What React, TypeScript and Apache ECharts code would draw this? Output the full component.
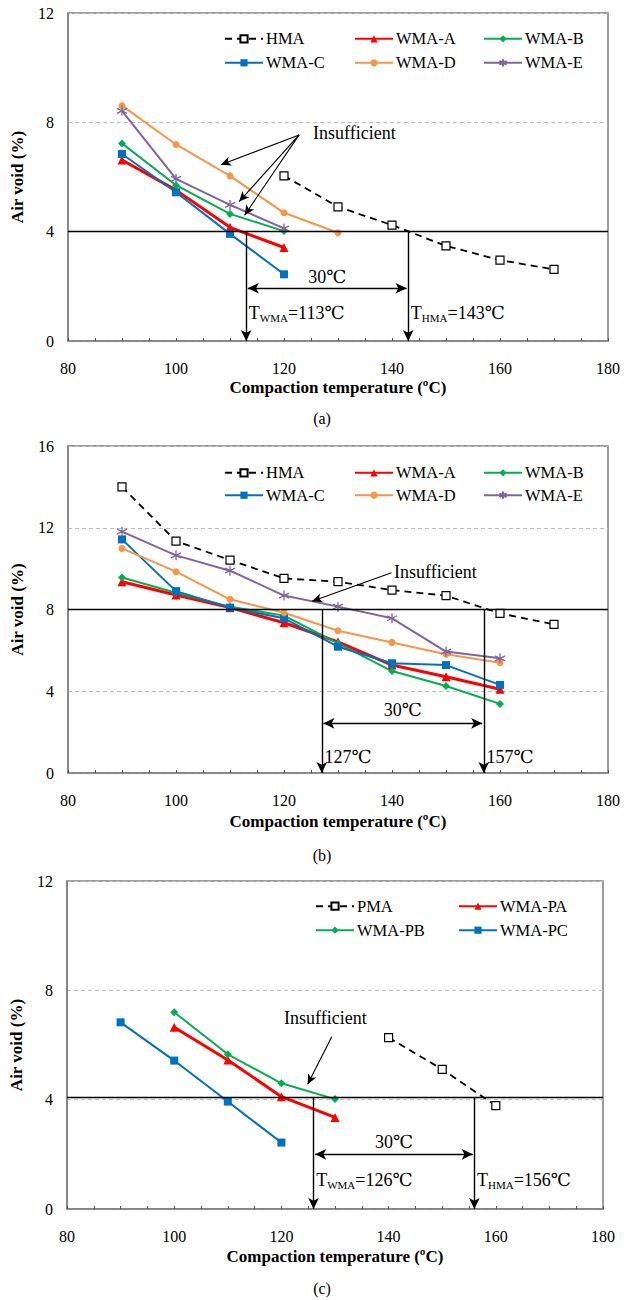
import React, { useEffect, useRef } from "react";
import * as echarts from "echarts";

const FONT = "'Liberation Serif', 'Times New Roman', 'DejaVu Serif', serif";

// ---------- (a) ----------
const hmaTempsA = [120, 130, 140, 150, 160, 170];
const hmaA = [6.04, 4.91, 4.24, 3.48, 2.96, 2.62];
const tempsA4 = [90, 100, 110, 120];
const tempsA5 = [90, 100, 110, 120, 130];
const wmaA_a = [6.62, 5.52, 4.16, 3.42];
const wmaB_a = [7.23, 5.7, 4.65, 4.02];
const wmaC_a = [6.84, 5.44, 3.92, 2.44];
const wmaD_a = [8.61, 7.19, 6.04, 4.69, 3.96];
const wmaE_a = [8.42, 5.93, 4.98, 4.12];

// ---------- (b) ----------
const hmaTempsB = [90, 100, 110, 120, 130, 140, 150, 160, 170];
const hmaB = [14.0, 11.35, 10.42, 9.52, 9.36, 8.95, 8.68, 7.81, 7.27];
const tempsB = [90, 100, 110, 120, 130, 140, 150, 160];
const wmaA_b = [9.36, 8.71, 8.09, 7.35, 6.42, 5.28, 4.71, 4.1];
const wmaB_b = [9.57, 8.82, 8.14, 7.7, 6.34, 4.99, 4.26, 3.38];
const wmaC_b = [11.43, 8.9, 8.09, 7.57, 6.18, 5.37, 5.28, 4.31];
const wmaD_b = [10.99, 9.85, 8.5, 7.84, 6.96, 6.39, 5.81, 5.4];
const wmaE_b = [11.81, 10.65, 9.9, 8.68, 8.14, 7.57, 5.94, 5.61];

// ---------- (c) ----------
const pmaTemps = [140, 150, 160];
const pma = [6.27, 5.11, 3.78];
const tempsPA = [100, 110, 120, 130];
const wmaPA = [6.65, 5.45, 4.11, 3.35];
const wmaPB = [7.2, 5.66, 4.6, 4.02];
const tempsPC = [90, 100, 110, 120];
const wmaPC = [6.83, 5.43, 3.93, 2.43];

// annotation values
const limitA = 4, tA = [113, 143], dimYA = 1.93;
const limitB = 8, tB = [127, 157], dimYB = 2.43;
const limitC = 4.08, tC = [126, 156], dimYC = 2.0;
const insuffA = { from: [122.8, 7.54], to: [[108.3, 6.45], [111.7, 5.1], [112.7, 4.6]], text: [125.3, 7.6] };
const insuffB = { from: [139.9, 9.8], to: [[125.2, 8.4]], text: [140.3, 9.85] };
const insuffC = { from: [129.4, 6.3], to: [[124.9, 4.56]], text: [120.4, 6.98] };

const xTicks = { min: 80, max: 180, interval: 5, labelEvery: 20 };
const yAxes = [
  { max: 12, interval: 4 },
  { max: 16, interval: 4 },
  { max: 12, interval: 4 },
];

const asterisk = "path://M5,0L5,10M0.67,2.5L9.33,7.5M0.67,7.5L9.33,2.5";

const STY: Record<string, any> = {
  HMA: { color: "#000", symbol: "rect", size: 8, width: 1.8, dashed: true, hollow: true },
  PMA: { color: "#000", symbol: "rect", size: 8, width: 1.8, dashed: true, hollow: true },
  "WMA-A": { color: "#FF0000", symbol: "triangle", size: 9, width: 3 },
  "WMA-PA": { color: "#FF0000", symbol: "triangle", size: 9, width: 3 },
  "WMA-B": { color: "#00B050", symbol: "diamond", size: 8, width: 2 },
  "WMA-PB": { color: "#00B050", symbol: "diamond", size: 8, width: 2 },
  "WMA-C": { color: "#0070C0", symbol: "rect", size: 8, width: 2 },
  "WMA-PC": { color: "#0070C0", symbol: "rect", size: 8, width: 2 },
  "WMA-D": { color: "#F79646", symbol: "circle", size: 7, width: 2 },
  "WMA-E": { color: "#8064A2", symbol: asterisk, size: 10, width: 2, stroke: true },
};

function zip(xs: number[], ys: number[]) {
  return ys.map((y, i) => [xs[i], y]);
}

function mkSeries(name: string, xs: number[], ys: number[], gi: number, extra: any = {}) {
  const s = STY[name];
  const itemStyle: any = s.hollow
    ? { color: "#fff", borderColor: s.color, borderWidth: 1.2 }
    : s.stroke
    ? { color: s.color, borderColor: s.color, borderWidth: 1.3 }
    : { color: s.color, borderColor: s.color, borderWidth: 0 };
  return {
    type: "line",
    name,
    xAxisIndex: gi,
    yAxisIndex: gi,
    data: zip(xs, ys),
    symbol: s.symbol,
    symbolSize: s.size,
    showAllSymbol: true,
    lineStyle: { color: s.color, width: s.width, type: s.dashed ? [7, 5] : "solid" },
    itemStyle,
    z: s.dashed ? 3 : 2,
    ...extra,
  };
}

const txt = { fontFamily: FONT, color: "#000" };
const rich = {
  t: { fontFamily: FONT, fontSize: 18, color: "#000", lineHeight: 20 },
  s: { fontFamily: FONT, fontSize: 11, color: "#000", lineHeight: 20, verticalAlign: "bottom" },
};

function label(coord: number[], formatter: string, position = "right") {
  return {
    coord,
    symbol: "circle",
    symbolSize: 1,
    itemStyle: { color: "rgba(0,0,0,0)" },
    label: { show: true, position, distance: 0, formatter, rich },
  };
}

function annotations(limit: number, t: number[], dimY: number, ins: any, labels: string[], thirtyY: number, labelY: number) {
  const arrowEnd = (c: number[]) => ({ coord: c, symbol: "arrow", symbolSize: [8, 11] });
  const lines: any[] = [
    [{ coord: [80, limit], symbol: "none" }, { coord: [180, limit], symbol: "none" }],
    [{ coord: [t[0], limit], symbol: "none" }, arrowEnd([t[0], 0])],
    [{ coord: [t[1], limit], symbol: "none" }, arrowEnd([t[1], 0])],
    [arrowEnd([t[0] + 0.3, dimY]), arrowEnd([t[1] - 0.3, dimY])],
  ];
  ins.to.forEach((c: number[]) => {
    lines.push([
      { coord: ins.from, symbol: "none", lineStyle: { width: 1.1, color: "#000" } },
      { coord: c, symbol: "arrow", symbolSize: [7, 10] },
    ]);
  });
  return {
    markLine: {
      silent: true,
      animation: false,
      symbol: ["none", "none"],
      label: { show: false },
      lineStyle: { color: "#000", width: 1.4, type: "solid" },
      emphasis: { disabled: true },
      data: lines,
    },
    markPoint: {
      silent: true,
      animation: false,
      data: [
        label([(t[0] + t[1]) / 2, thirtyY], "{t|30℃}", "inside"),
        label([t[0] + 0.4, labelY], labels[0]),
        label([t[1] + 0.4, labelY], labels[1]),
        label(ins.text, "{t|Insufficient}"),
      ],
    },
  };
}

const grids = [
  { left: 68, top: 13, width: 540, height: 328 },
  { left: 68, top: 446, width: 540, height: 327 },
  { left: 62, top: 881, width: 541, height: 328 },
];

function buildOption() {
  const xAxis = grids.map((_, i) => ({
    type: "value",
    gridIndex: i,
    min: xTicks.min,
    max: xTicks.max,
    interval: xTicks.interval,
    name: "Compaction temperature (ºC)",
    nameLocation: "middle",
    nameGap: i === 0 ? 38 : i === 1 ? 40 : 39,
    nameTextStyle: { ...txt, fontSize: 17, fontWeight: "bold" },
    axisLine: { show: true, lineStyle: { color: "#7f7f7f", width: 1.5 } },
    axisTick: { show: true, inside: true, length: 3, lineStyle: { color: "#555" } },
    axisLabel: {
      ...txt,
      fontSize: 16,
      margin: 19,
      showMinLabel: true,
      showMaxLabel: true,
      formatter: (v: number) => (v % xTicks.labelEvery === 0 ? String(v) : ""),
    },
    splitLine: { show: false },
  }));
  const yAxis = grids.map((_, i) => ({
    type: "value",
    gridIndex: i,
    min: 0,
    max: yAxes[i].max,
    interval: yAxes[i].interval,
    name: "Air void (%)",
    nameLocation: "middle",
    nameGap: 42,
    nameTextStyle: { ...txt, fontSize: 17, fontWeight: "bold" },
    axisLine: { show: true, lineStyle: { color: "#7f7f7f", width: 1.5 } },
    axisTick: { show: false },
    axisLabel: { ...txt, fontSize: 16, margin: 14 },
    splitLine: { show: true, lineStyle: { color: "#bfbfbf", type: [4, 3], width: 1 } },
  }));

  const series: any[] = [
    mkSeries("HMA", hmaTempsA, hmaA, 0,
      annotations(limitA, tA, dimYA, insuffA,
        ["{t|T}{s|WMA}{t|=113℃}", "{t|T}{s|HMA}{t|=143℃}"], 2.35, 1.02)),
    mkSeries("WMA-A", tempsA4, wmaA_a, 0),
    mkSeries("WMA-B", tempsA4, wmaB_a, 0),
    mkSeries("WMA-C", tempsA4, wmaC_a, 0),
    mkSeries("WMA-D", tempsA5, wmaD_a, 0),
    mkSeries("WMA-E", tempsA4, wmaE_a, 0),

    mkSeries("HMA", hmaTempsB, hmaB, 1,
      annotations(limitB, tB, dimYB, insuffB, ["{t|127℃}", "{t|157℃}"], 3.08, 0.8)),
    mkSeries("WMA-A", tempsB, wmaA_b, 1),
    mkSeries("WMA-B", tempsB, wmaB_b, 1),
    mkSeries("WMA-C", tempsB, wmaC_b, 1),
    mkSeries("WMA-D", tempsB, wmaD_b, 1),
    mkSeries("WMA-E", tempsB, wmaE_b, 1),

    mkSeries("PMA", pmaTemps, pma, 2,
      annotations(limitC, tC, dimYC, insuffC,
        ["{t|T}{s|WMA}{t|=126℃}", "{t|T}{s|HMA}{t|=156℃}"], 2.46, 1.06)),
    mkSeries("WMA-PA", tempsPA, wmaPA, 2),
    mkSeries("WMA-PB", tempsPA, wmaPB, 2),
    mkSeries("WMA-PC", tempsPC, wmaPC, 2),
  ];

  const legendItem = (name: string, left: number, rowY: number) => ({
    data: [name],
    left,
    top: rowY - 9,
    padding: 0,
    itemWidth: 38,
    itemHeight: 9,
    itemGap: 0,
    selectedMode: false,
    textStyle: { ...txt, fontSize: 16.5, padding: [0, 0, 0, -2] },
  });
  const cols = [224, 354, 483];
  const namesAB = [["HMA", "WMA-A", "WMA-B"], ["WMA-C", "WMA-D", "WMA-E"]];
  const legend: any[] = [];
  [[39.3, 63.3], [473.3, 495.7]].forEach((rows) => {
    namesAB.forEach((row, r) =>
      row.forEach((n, c) => legend.push(legendItem(n, cols[c], rows[r])))
    );
  });
  const colsC = [315, 458];
  [["PMA", "WMA-PA"], ["WMA-PB", "WMA-PC"]].forEach((row, r) =>
    row.forEach((n, c) => legend.push(legendItem(n, colsC[c], [906.7, 930.7][r])))
  );

  const caption = (text: string, y: number) => ({
    type: "text",
    x: 322,
    y,
    style: { text, font: `16px ${FONT}`, fill: "#000", align: "center", verticalAlign: "middle" },
  });

  return {
    animation: false,
    backgroundColor: "#fff",
    textStyle: { fontFamily: FONT },
    grid: grids.map((g) => ({
      ...g,
      show: true,
      borderColor: "#7f7f7f",
      borderWidth: 1.5,
      backgroundColor: "transparent",
    })),
    xAxis,
    yAxis,
    legend,
    series,
    graphic: [caption("(a)", 418), caption("(b)", 855), caption("(c)", 1288)],
  };
}

export default function App() {
  const ref = useRef<HTMLDivElement>(null);
  useEffect(() => {
    if (!ref.current) return;
    const chart = echarts.init(ref.current, undefined, { renderer: "svg" });
    chart.setOption(buildOption() as any);
    return () => chart.dispose();
  }, []);
  return (
    <div
      ref={ref}
      style={{ position: "absolute", left: 0, top: 0, width: 631, height: 1300, background: "#fff" }}
    />
  );
}
